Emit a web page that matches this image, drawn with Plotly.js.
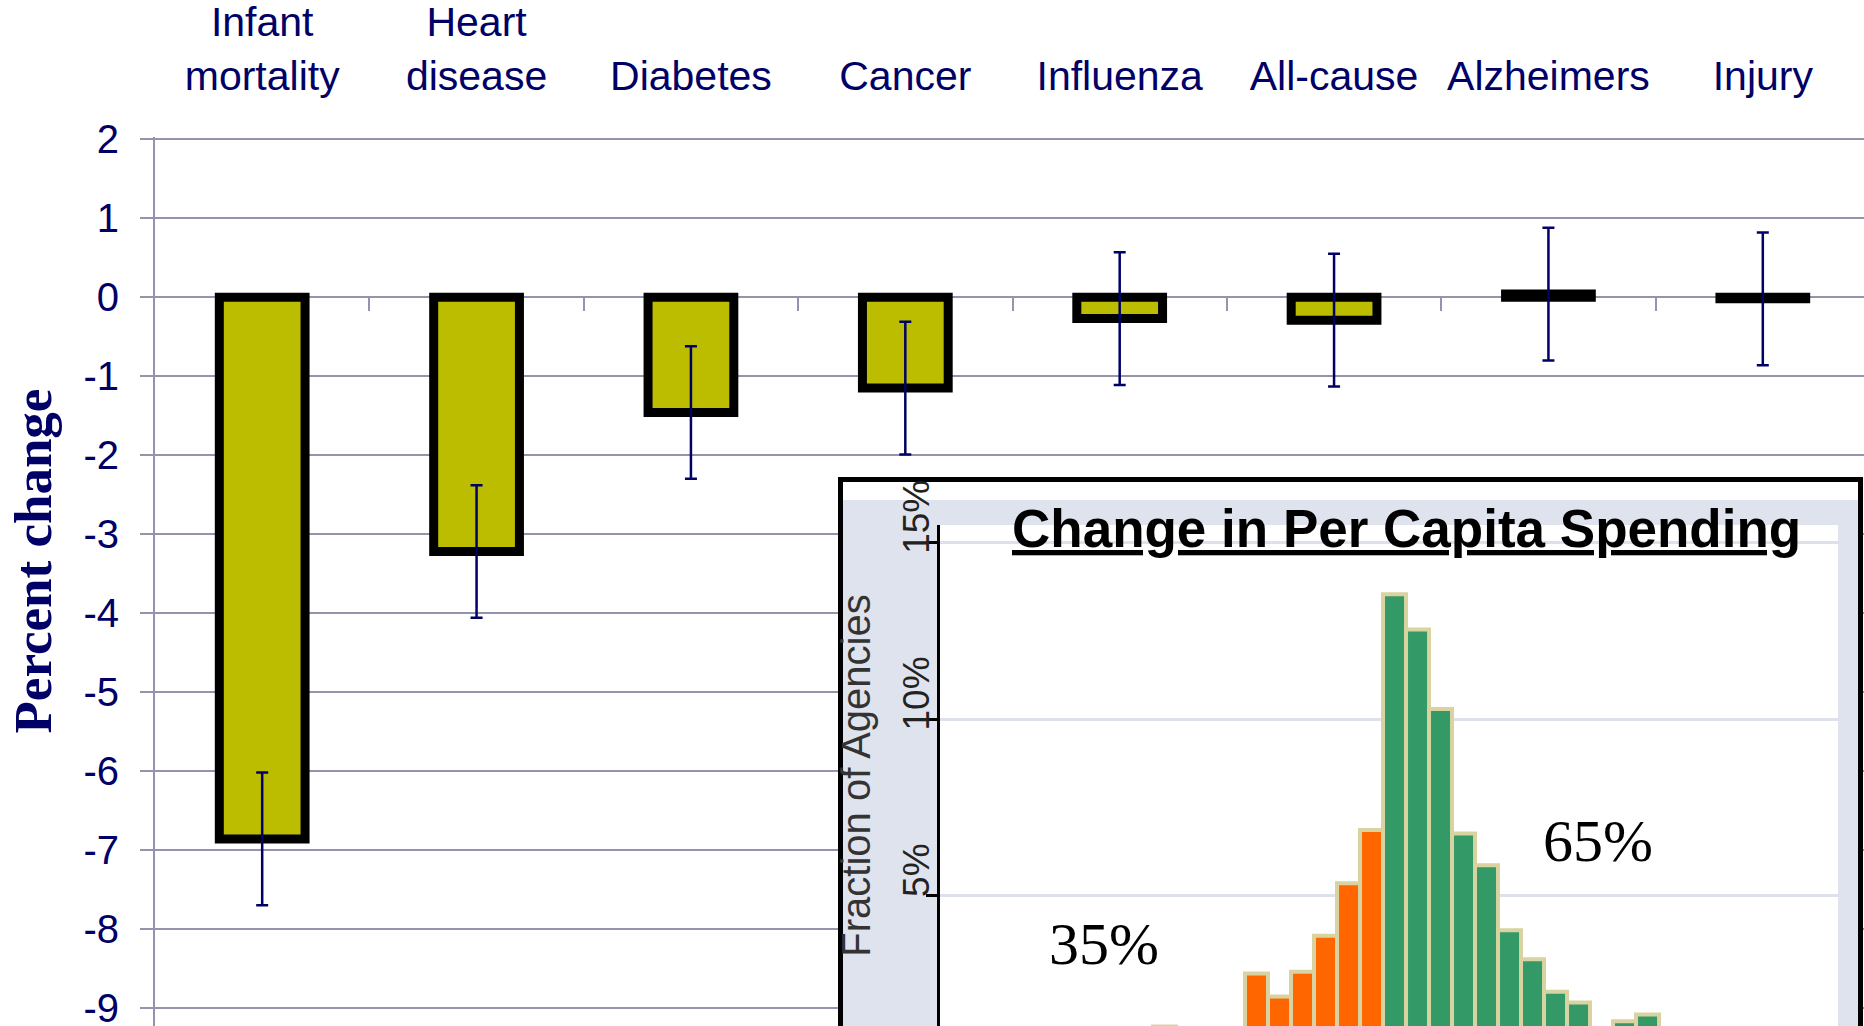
<!DOCTYPE html>
<html><head><meta charset="utf-8">
<script src="https://cdn.plot.ly/plotly-3.0.1.min.js"></script>
<style>html,body{margin:0;padding:0;overflow:hidden;background:#fff}#chart{width:1870px;height:1026px}</style>
</head><body><div id="chart"></div>
<script>
// ---- main chart data ----
const categories = ['Infant mortality','Heart disease','Diabetes','Cancer','Influenza','All-cause','Alzheimers','Injury'];
const categoryLabels = ['Infant<br>mortality','Heart<br>disease','Diabetes','Cancer','Influenza','All-cause','Alzheimers','Injury'];
const percentChange = [-6.86,-3.22,-1.46,-1.15,-0.27,-0.29,0.04,-0.02];
const errorHalfWidth = [0.84,0.84,0.84,0.84,0.84,0.84,0.84,0.84];
const yTickValues = [2,1,0,-1,-2,-3,-4,-5,-6,-7,-8,-9];
const yTickLabels = ['2','1','0','-1','-2','-3','-4','-5','-6','-7','-8','-9'];
const categoryBoundaries = [0.5,1.5,2.5,3.5,4.5,5.5,6.5];

// ---- inset histogram data (share of agencies, %) ----
const decreaseBins = [-9.5,-8.5,-7.5,-6.5,-5.5,-4.5,-3.5,-2.5,-1.5,-0.5];
const decreaseShare = [1.30,1.2,1.1,1.2,2.80,2.15,2.85,3.87,5.35,6.86];
const increaseBins = [0.5,1.5,2.5,3.5,4.5,5.5,6.5,7.5,8.5,9.5,10.5,11.5];
const increaseShare = [13.53,12.53,10.28,6.76,5.86,4.02,3.20,2.28,1.98,0.9,1.45,1.64];
const insetTickValues = [5,10,15];
const insetTickLabels = ['5%','10%','15%'];
const shareDecrease = '35%';
const shareIncrease = '65%';

// ---- geometry helpers ----
const W = 1870, H = 1026, ML = 155, MT = 137;
const PW = W - ML, PH = H - MT;
const pxX = p => (p - ML) / PW;
const pxY = p => (H - p) / PH;
const yRange = [-9.23, 2.03];

const navy = '#000066';
const grid = '#9494AC';
const sans = 'Liberation Sans, Arial, sans-serif';
const serif = 'Liberation Serif, Times New Roman, serif';

const traces = [
  {type:'bar', x:categories, y:percentChange, width:0.4, xaxis:'x', yaxis:'y',
   marker:{color:'#BCBC00', line:{color:'#000000', width:9}},
   error_y:{type:'data', array:errorHalfWidth, visible:true, color:navy, thickness:2.5, width:6},
   hoverinfo:'skip'},
  {type:'scatter', x:[], y:[], xaxis:'x4', yaxis:'y', hoverinfo:'skip', showlegend:false},
  {type:'scatter', x:[], y:[], xaxis:'x2', yaxis:'y2', hoverinfo:'skip', showlegend:false},
  {type:'bar', x:decreaseBins, y:decreaseShare, width:1, xaxis:'x3', yaxis:'y3',
   marker:{color:'#FF6600', line:{color:'#D8D3A0', width:4}}, hoverinfo:'skip'},
  {type:'bar', x:increaseBins, y:increaseShare, width:1, xaxis:'x3', yaxis:'y3',
   marker:{color:'#339966', line:{color:'#D8D3A0', width:4}}, hoverinfo:'skip'}
];

const layout = {
  width: W, height: H,
  margin:{l:ML, r:0, t:MT, b:0, pad:0},
  paper_bgcolor:'#ffffff', plot_bgcolor:'#ffffff',
  showlegend:false, barmode:'overlay',
  font:{family:sans},
  xaxis:{domain:[0,1], type:'category', side:'top', anchor:'y', range:[-0.5,7.5],
    tickvals:categories, ticktext:categoryLabels, ticks:'', showgrid:false, showline:false,
    tickfont:{family:sans, size:41, color:navy}, ticklabelstandoff:38, ticklabeloverflow:'allow'},
  xaxis4:{overlaying:'x', anchor:'free', position:(0 - yRange[0])/(yRange[1]-yRange[0]), side:'bottom',
    range:[-0.5,7.5], tickvals:categoryBoundaries, ticks:'outside', ticklen:13, tickwidth:2, tickcolor:grid,
    showticklabels:false, showgrid:false, zeroline:false, showline:false},
  yaxis:{domain:[0,1], range:yRange, tickvals:yTickValues, ticktext:yTickLabels,
    showgrid:true, gridcolor:grid, gridwidth:2, zeroline:true, zerolinecolor:grid, zerolinewidth:2,
    showline:true, linecolor:grid, linewidth:2, ticks:'outside', ticklen:13, tickwidth:2, tickcolor:grid,
    tickfont:{family:sans, size:40, color:navy}, ticklabelstandoff:13, ticklabeloverflow:'allow'},
  xaxis2:{domain:[pxX(838), pxX(1863)], range:[838,1863], visible:false, anchor:'y2'},
  yaxis2:{domain:[0, pxY(477)], range:[1026,477], visible:false, anchor:'x2'},
  xaxis3:{domain:[pxX(940), pxX(1838)], range:[-19.26,19.78], visible:false, anchor:'y3'},
  yaxis3:{domain:[0, pxY(525)], range:[1.313,15.49], anchor:'x3',
    tickvals:insetTickValues, ticktext:insetTickLabels,
    showgrid:true, gridcolor:'#DCE1EC', gridwidth:3, zeroline:false,
    showline:true, linecolor:'#000000', linewidth:3,
    ticks:'outside', ticklen:11, tickwidth:3, tickcolor:'#000000',
    tickangle:-90, ticklabelshift:-20, ticklabelstandoff:-18, ticklabeloverflow:'allow',
    tickfont:{family:sans, size:37, color:'#222222'},
    title:{text:'Fraction of Agencies', font:{family:sans, size:40, color:'#333333'}, standoff:14}},
  shapes:[
    {type:'rect', xref:'x2', yref:'y2', x0:838, x1:1863, y0:477, y1:1040, fillcolor:'#000000', line:{width:0}, layer:'below'},
    {type:'rect', xref:'x2', yref:'y2', x0:843, x1:1858, y0:482, y1:1040, fillcolor:'#ffffff', line:{width:0}, layer:'below'},
    {type:'rect', xref:'x2', yref:'y2', x0:843, x1:1858, y0:500, y1:1040, fillcolor:'#DFE3EE', line:{width:0}, layer:'below'}
  ],
  annotations:[
    {xref:'paper', yref:'paper', x:pxX(32), y:pxY(561.5), text:'Percent change', textangle:-90,
     showarrow:false, xanchor:'center', yanchor:'middle',
     font:{family:serif, size:53, color:navy, weight:'bold'}},
    {xref:'paper', yref:'paper', x:pxX(1406), y:pxY(528), text:'<u>Change in Per Capita Spending</u>',
     showarrow:false, xanchor:'center', yanchor:'middle',
     font:{family:sans, size:53, color:'#000000', weight:'bold'}},
    {xref:'x3', yref:'y3', x:-12.15, y:3.63, text:shareDecrease, showarrow:false,
     xanchor:'center', yanchor:'middle', font:{family:serif, size:60, color:'#000000'}},
    {xref:'x3', yref:'y3', x:9.33, y:6.55, text:shareIncrease, showarrow:false,
     xanchor:'center', yanchor:'middle', font:{family:serif, size:60, color:'#000000'}}
  ]
};

Plotly.newPlot('chart', traces, layout, {displayModeBar:false, staticPlot:true});
</script></body></html>
